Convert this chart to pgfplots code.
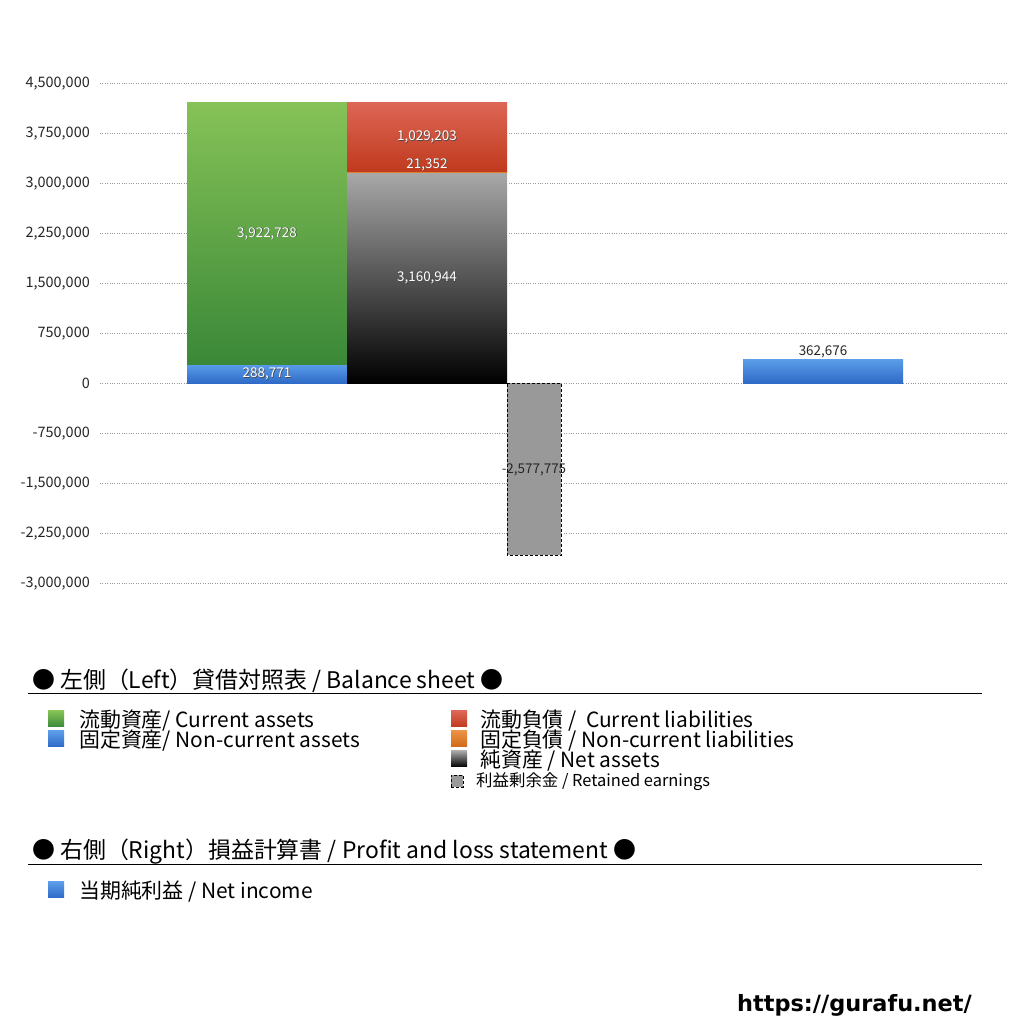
\documentclass[border=0pt]{standalone}
\usepackage{pgfplots}
\pgfplotsset{compat=1.18}
\usepackage{fontspec}
\setmainfont{Noto Sans CJK JP}
\newfontfamily\urlfont{DejaVu Sans}
\definecolor{gT}{HTML}{86C257}\definecolor{gB}{HTML}{3A8838}
\definecolor{bT}{HTML}{5B9DE9}\definecolor{bB}{HTML}{2D69C6}
\definecolor{rT}{HTML}{DD6655}\definecolor{rB}{HTML}{C03A1E}
\definecolor{oT}{HTML}{EA9245}\definecolor{oB}{HTML}{D06A1A}
\definecolor{kT}{HTML}{A8A8A8}\definecolor{kB}{HTML}{000000}
\definecolor{reG}{HTML}{999999}
\newcommand{\wl}[3]{%
  \node[font=\fontsize{13.5}{13.5}\selectfont, text=black!70, inner sep=0pt] at ([xshift=0.7bp,yshift=-0.7bp]axis cs:#1,#2) {#3};
  \node[font=\fontsize{13.5}{13.5}\selectfont, text=white, inner sep=0pt] at (axis cs:#1,#2) {#3};}
\begin{document}
\begin{tikzpicture}[x=1bp,y=1bp]
\path[use as bounding box, fill=white] (0,0) rectangle (1024,1024);
\begin{axis}[
  at={(100bp,440.5bp)}, anchor=south west, scale only axis,
  width=908bp, height=500bp,
  xmin=100, xmax=1008, ymin=-3000000, ymax=4500000,
  clip=false,
  axis line style={draw=none},
  xtick=\empty,
  ytick={-3000000,-2250000,-1500000,-750000,0,750000,1500000,2250000,3000000,3750000,4500000},
  major tick length=0pt,
  scaled y ticks=false,
  ymajorgrids,
  grid style={dotted, black!40, line width=0.5bp},
  yticklabel style={font=\fontsize{14.5}{15}\selectfont, text=black!85, inner sep=0pt, anchor=east, xshift=-10bp},
  /pgf/number format/.cd, fixed, 1000 sep={,}, assume math mode=true,
]
% left column: assets
\addplot[draw=none, top color=bT, bottom color=bB] coordinates {(187,0) (347,0) (347,288771) (187,288771)} -- cycle;
\addplot[draw=none, top color=gT, bottom color=gB] coordinates {(187,288771) (347,288771) (347,4211499) (187,4211499)} -- cycle;
% right column: liabilities + net assets
\addplot[draw=none, top color=kT, bottom color=kB] coordinates {(347,0) (507,0) (507,3160944) (347,3160944)} -- cycle;
\addplot[draw=none, top color=oT, bottom color=oB] coordinates {(347,3160944) (507,3160944) (507,3182296) (347,3182296)} -- cycle;
\addplot[draw=none, top color=rT, bottom color=rB] coordinates {(347,3182296) (507,3182296) (507,4211499) (347,4211499)} -- cycle;
% retained earnings
\addplot[fill=reG, draw=black, densely dashed, line width=0.8bp] coordinates {(507,0) (561,0) (561,-2577775) (507,-2577775)} -- cycle;
% net income
\addplot[draw=none, top color=bT, bottom color=bB] coordinates {(743,0) (903,0) (903,362676) (743,362676)} -- cycle;
\wl{267}{2250135}{3,922,728}
\wl{267}{144385}{288,771}
\wl{427}{1580472}{3,160,944}
\wl{427}{3696897}{1,029,203}
\wl{427}{3285000}{21,352}
\node[font=\fontsize{13.5}{13.5}\selectfont, text=black!85, inner sep=0pt] at (axis cs:534,-1288887) {-2,577,775};
\node[font=\fontsize{13.5}{13.5}\selectfont, text=black!85, inner sep=0pt] at (axis cs:823,480000) {362,676};
\end{axis}
% legend section 1
\node[anchor=west, inner sep=0pt, font=\fontsize{23}{23}\selectfont] at (32,343) {● 左側（Left）貸借対照表 / Balance sheet ●};
\draw[line width=1bp] (28,330) -- (982,330);
\def\sw#1#2#3#4{\shade[top color=#3, bottom color=#4] (#1-8,#2-8) rectangle (#1+8,#2+8);}
\sw{56}{305}{gT}{gB}
\sw{56}{285}{bT}{bB}
\sw{459}{305}{rT}{rB}
\sw{459}{285}{oT}{oB}
\sw{459}{265}{kT}{kB}
\draw[fill=reG, densely dashed, line width=0.7bp] (451,237) rectangle (463,249);
\begin{scope}[every node/.style={anchor=west, inner sep=0pt, font=\fontsize{21}{21}\selectfont}]
\node at (79,303) {流動資産/ Current assets};
\node at (79,283) {固定資産/ Non-current assets};
\node at (480,303) {流動負債 /\ \ Current liabilities};
\node at (480,283) {固定負債 / Non-current liabilities};
\node at (480,263) {純資産 / Net assets};
\end{scope}
\node[anchor=west, inner sep=0pt, font=\fontsize{16.5}{16.5}\selectfont] at (476,242) {利益剰余金 / Retained earnings};
% legend section 2
\node[anchor=west, inner sep=0pt, font=\fontsize{23}{23}\selectfont] at (32,172) {● 右側（Right）損益計算書 / Profit and loss statement ●};
\draw[line width=1bp] (28,159) -- (982,159);
\sw{56}{134}{bT}{bB}
\node[anchor=west, inner sep=0pt, font=\fontsize{21}{21}\selectfont] at (79,132) {当期純利益 / Net income};
% url
\node[anchor=east, inner sep=0pt, font=\urlfont\bfseries\fontsize{22.5}{22.5}\selectfont] at (972,19) {https://gurafu.net/};
\end{tikzpicture}
\end{document}
